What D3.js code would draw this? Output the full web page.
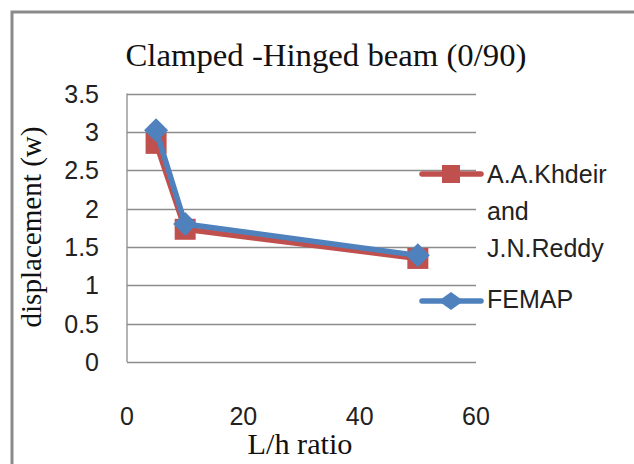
<!DOCTYPE html>
<html><head><meta charset="utf-8">
<script src="https://cdn.jsdelivr.net/npm/d3@7"></script>
<style>body{margin:0;background:#fff}svg{display:block}</style>
</head><body>
<script>
const xValues = [5, 10, 50];
const khdeir = [2.85, 1.73, 1.35];
const femap = [3.02, 1.80, 1.39];
const yTicks = [0, 0.5, 1, 1.5, 2, 2.5, 3, 3.5];
const yTickLabels = ["0", "0.5", "1", "1.5", "2", "2.5", "3", "3.5"];
const xTicks = [0, 20, 40, 60];
const seriesNames = ["A.A.Khdeir and J.N.Reddy", "FEMAP"];
const legendLines = ["A.A.Khdeir", "and", "J.N.Reddy"];
const title = "Clamped -Hinged beam (0/90)";
const xTitle = "L/h ratio";
const yTitle = "displacement (w)";

const W = 634, H = 464;
const svg = d3.select("body").append("svg").attr("width", W).attr("height", H);
svg.append("rect").attr("width", W).attr("height", H).attr("fill", "#fff");

// frame
svg.append("path").attr("d", `M12,${H} L12,12 L${W},12`).attr("fill", "none")
  .attr("stroke", "#8a8a8a").attr("stroke-width", 3);

const x = d3.scaleLinear().domain([0, 60]).range([127, 476]);
const y = d3.scaleLinear().domain([0, 3.5]).range([362, 93.5]);

// gridlines
svg.append("g").selectAll("line").data(yTicks).join("line")
  .attr("x1", x(0)).attr("x2", x(60))
  .attr("y1", d => Math.round(y(d)) + 0.5).attr("y2", d => Math.round(y(d)) + 0.5)
  .attr("stroke", "#8c8c8c").attr("stroke-width", 1.3);
svg.append("line").attr("x1", x(0)).attr("x2", x(0)).attr("y1", y(3.5)).attr("y2", y(0))
  .attr("stroke", "#8c8c8c").attr("stroke-width", 1.3);

const sans = "'Liberation Sans', Arial, sans-serif";
const serif = "'Liberation Serif', 'Times New Roman', serif";

svg.append("g").selectAll("text").data(yTicks).join("text")
  .attr("x", 99).attr("y", d => y(d) + 9)
  .attr("text-anchor", "end").attr("font-family", sans).attr("font-size", 25)
  .attr("fill", "#222").text((d, i) => yTickLabels[i]);
svg.append("g").selectAll("text").data(xTicks).join("text")
  .attr("x", d => x(d)).attr("y", 425)
  .attr("text-anchor", "middle").attr("font-family", sans).attr("font-size", 25)
  .attr("fill", "#222").text(d => d);

svg.append("text").attr("x", 326).attr("y", 66).attr("text-anchor", "middle")
  .attr("font-family", serif).attr("font-size", 31).attr("fill", "#111")
  .attr("textLength", 401).attr("lengthAdjust", "spacingAndGlyphs").text(title);
svg.append("text").attr("x", 300).attr("y", 454).attr("text-anchor", "middle")
  .attr("font-family", serif).attr("font-size", 30).attr("fill", "#111")
  .attr("textLength", 105).attr("lengthAdjust", "spacingAndGlyphs").text(xTitle);
svg.append("text").attr("transform", "translate(41,227) rotate(-90)").attr("text-anchor", "middle")
  .attr("font-family", serif).attr("font-size", 29).attr("fill", "#111")
  .attr("textLength", 201).attr("lengthAdjust", "spacingAndGlyphs").text(yTitle);

const red = "#C0504D", blue = "#4F81BD";
const line = d3.line().x((d, i) => x(xValues[i])).y(d => y(d));
const diamond = (w, h) => `M0,${-h/2}L${w/2},0L0,${h/2}L${-w/2},0Z`;
const square = (s) => `M${-s/2},${-s/2}h${s}v${s}h${-s}Z`;

function drawSeries(vals, color, shapePath) {
  const g = svg.append("g");
  g.append("path").attr("d", line(vals)).attr("fill", "none").attr("stroke", color)
    .attr("stroke-width", 5.5).attr("stroke-linejoin", "round").attr("stroke-linecap", "round");
  g.selectAll("path.m").data(vals).join("path").attr("class", "m")
    .attr("transform", (d, i) => `translate(${x(xValues[i])},${y(d)})`)
    .attr("d", shapePath).attr("fill", color);
}
drawSeries(khdeir, red, square(21));
drawSeries(femap, blue, diamond(24, 24));

// legend
const lg = svg.append("g");
lg.append("line").attr("x1", 422).attr("x2", 481).attr("y1", 174).attr("y2", 174)
  .attr("stroke", red).attr("stroke-width", 5.5).attr("stroke-linecap", "round");
lg.append("path").attr("transform", "translate(451,174)").attr("d", square(18)).attr("fill", red);
lg.append("line").attr("x1", 422).attr("x2", 481).attr("y1", 301).attr("y2", 301)
  .attr("stroke", blue).attr("stroke-width", 5.5).attr("stroke-linecap", "round");
lg.append("path").attr("transform", "translate(451,301)").attr("d", diamond(25, 18)).attr("fill", blue);

lg.selectAll("text.l1").data(legendLines).join("text").attr("class", "l1")
  .attr("x", 487).attr("y", (d, i) => 183 + i * 37)
  .attr("font-family", sans).attr("font-size", 25).attr("fill", "#222").text(d => d);
lg.append("text").attr("x", 487).attr("y", 308).attr("font-family", sans).attr("font-size", 25)
  .attr("fill", "#222").text(seriesNames[1]);
</script>
</body></html>
